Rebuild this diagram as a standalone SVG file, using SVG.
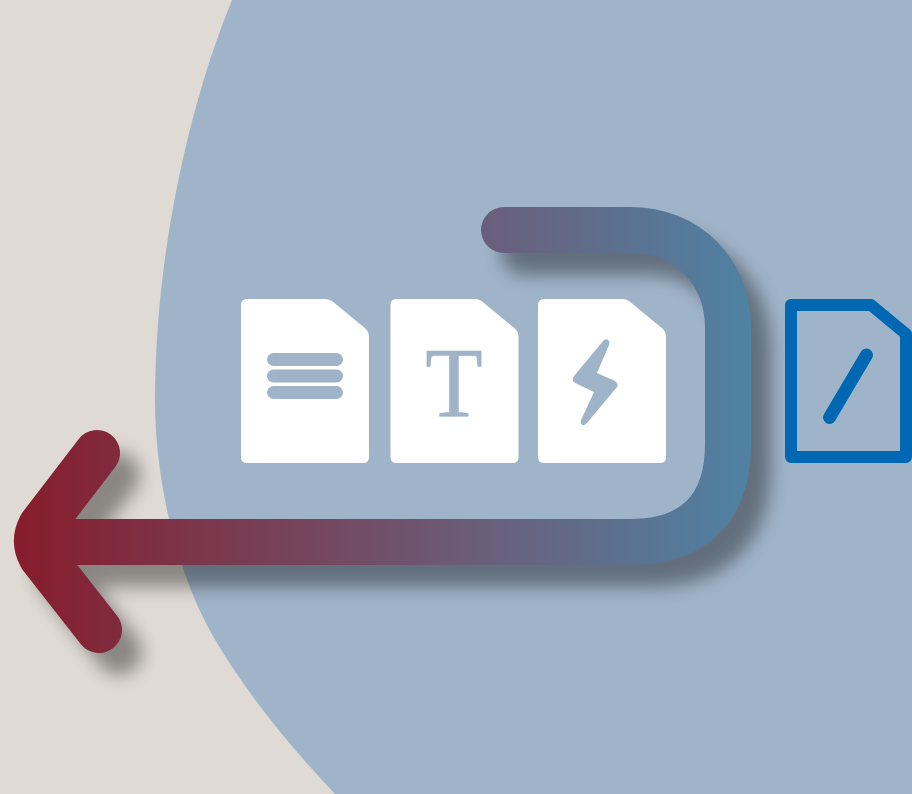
<svg xmlns="http://www.w3.org/2000/svg" width="912" height="794" viewBox="0 0 912 794">
<defs>
<linearGradient id="g" gradientUnits="userSpaceOnUse" x1="15" y1="0" x2="752" y2="0">
<stop offset="0" stop-color="#871c2c"/><stop offset="0.65" stop-color="#69607c"/><stop offset="1" stop-color="#4f82a3"/>
</linearGradient>
<filter id="sh" filterUnits="userSpaceOnUse" x="0" y="150" width="912" height="600"><feGaussianBlur stdDeviation="9"/></filter>
<style>.doc{fill:#fff}.cut{fill:#a0b4c9}</style>
<path id="page" d="M0 6Q0 0 6 0H84Q88 0 91 2L125 30Q128 33 128 37V158Q128 164 122 164H6Q0 164 0 158Z"/>
</defs>
<rect width="912" height="794" fill="#dfdad4"/>
<path id="blob" d="M232 0C185 115 155 265 155 400C155 490 181 577 208 627C238 682 283 739 335 794H912V0Z" fill="#a0b4c9"/>
<g id="connectors">
<g transform="translate(20 22)" opacity="0.38" filter="url(#sh)" fill="none" stroke="#000" stroke-width="46" stroke-linecap="round" stroke-linejoin="round">
<path d="M504 230H630C688 230 728 272 728 328V444C728 508 694 542 630 542H40"/>
<path d="M97 453L41 526Q33 541 41 556L99 630"/>
</g>
<g fill="none" stroke="url(#g)" stroke-width="46" stroke-linecap="round" stroke-linejoin="round">
<path d="M504 230H630C688 230 728 272 728 328V444C728 508 694 542 630 542H40"/>
<path d="M97 453L41 526Q33 541 41 556L99 630"/>
</g>
</g>
<g id="doc-lines">
<use href="#page" x="241" y="299" class="doc"/>
<rect class="cut" x="267" y="353" width="76" height="13" rx="6.5"/>
<rect class="cut" x="267" y="369.500" width="76" height="13" rx="6.5"/>
<rect class="cut" x="267" y="386" width="76" height="13" rx="6.5"/>
</g>
<g id="doc-text">
<use href="#page" x="390.500" y="299" class="doc"/>
<text transform="translate(454 416) scale(0.94 1)" text-anchor="middle" font-family="Liberation Serif, serif" font-size="100" fill="#a0b4c9" stroke="#a0b4c9" stroke-width="0.6">T</text>
</g>
<g id="doc-bolt">
<use href="#page" x="538" y="299" class="doc"/>
<path class="cut" d="M604 340Q607 338 609 341Q610 343 609 345L597 373L615 381Q619 384 617 387L587 423Q584 426 582 425Q580 423 581 420L594 392L575 383Q571 380 574 376Z"/>
</g>
<g id="doc-outline">
<path d="M791 305H871L906 334V457H791Z" fill="none" stroke="#0068b3" stroke-width="12" stroke-linejoin="round"/>
<path d="M866.500 355L829.500 417.500" fill="none" stroke="#0068b3" stroke-width="13" stroke-linecap="round"/>
</g>
</svg>
